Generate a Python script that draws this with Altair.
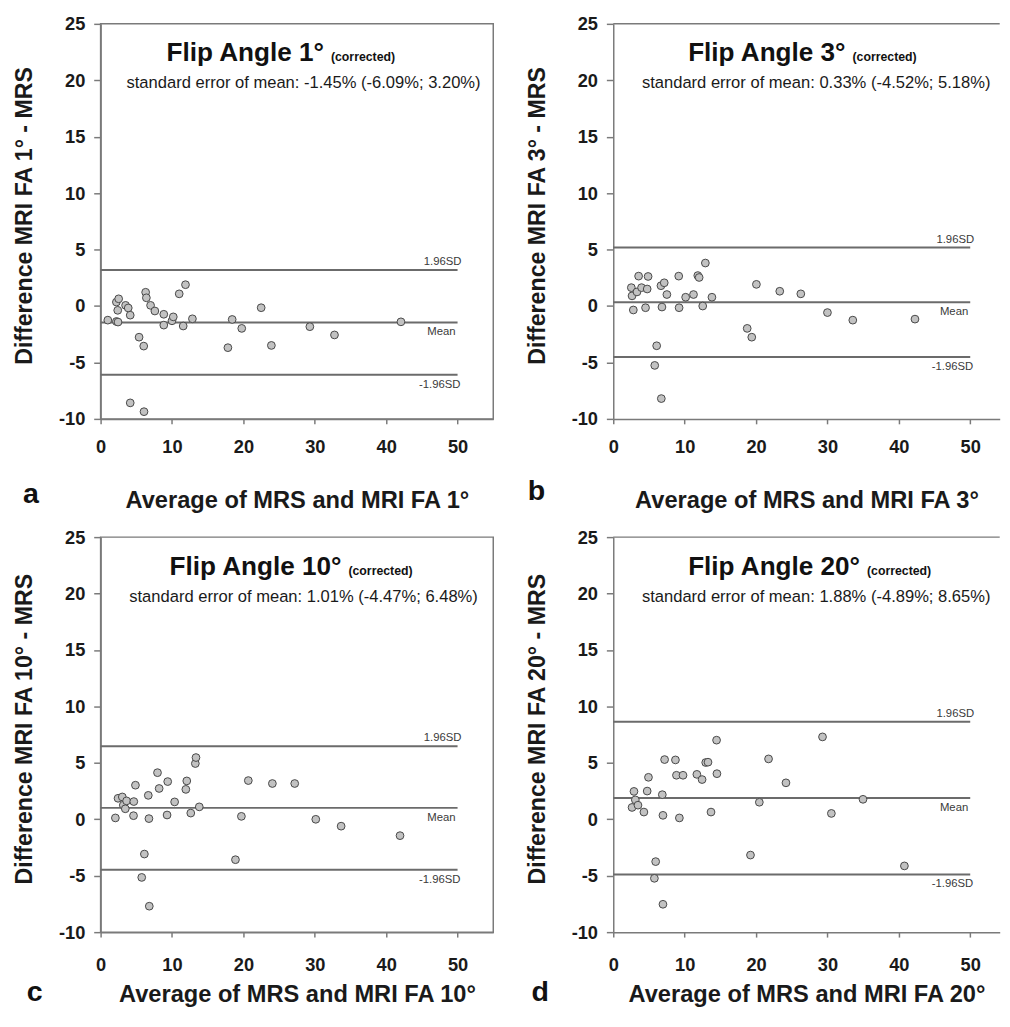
import altair as alt
import pandas as pd

FONT = "Liberation Sans"

# ---------------- data ----------------
a_avg = [1.01, 2.21, 2.53, 2.40, 2.21, 2.44, 3.50, 3.87, 4.15, 4.15, 5.39, 6.04, 6.08, 6.31, 6.41,
         7.00, 7.60, 8.85, 8.85, 10.0, 10.18, 11.01, 11.57, 11.89, 12.86, 17.83, 18.43, 19.77,
         22.49, 23.92, 29.31, 32.76, 42.07]
a_diff = [-1.25, 0.35, 0.64, -0.38, -1.37, -1.42, 0.06, -0.17, -0.81, -8.58, -2.76, -3.55, -9.36,
          1.22, 0.73, 0.06, -0.44, -0.73, -1.69, -1.31, -0.96, 1.08, -1.77, 1.89, -1.13, -3.69,
          -1.19, -1.98, -0.15, -3.49, -1.83, -2.56, -1.40]

b_avg = [2.53, 2.63, 2.81, 3.32, 3.55, 3.96, 4.52, 4.75, 4.88, 5.81, 6.08, 6.68, 6.73, 6.82, 7.14,
         7.51, 9.17, 9.22, 10.14, 11.24, 11.84, 12.03, 12.53, 12.90, 13.82, 18.76, 19.40, 20.05,
         23.32, 26.27, 30.00, 33.55, 42.26]
b_diff = [1.63, 0.90, -0.35, 1.25, 2.65, 1.63, -0.15, 1.51, 2.62, -5.26, -3.52, 1.80, -8.20, -0.09,
          2.06, 1.02, 2.65, -0.15, 0.78, 1.02, 2.70, 2.53, 0.00, 3.81, 0.78, -1.98, -2.76, 1.92,
          1.31, 1.08, -0.58, -1.25, -1.16]

c_avg = [2.07, 2.44, 3.04, 3.18, 3.46, 3.64, 4.61, 4.65, 4.88, 5.76, 6.13, 6.68, 6.77, 6.82, 7.97,
         8.20, 9.31, 9.40, 10.37, 11.94, 12.07, 12.63, 13.27, 13.36, 13.82, 18.89, 19.72, 20.69,
         24.06, 27.19, 30.14, 33.69, 41.94]
c_diff = [0.12, 1.86, 1.98, 1.25, 0.93, 1.63, 0.32, 1.57, 3.02, -5.15, -3.08, 2.12, 0.06, -7.70,
          4.13, 2.73, 0.38, 3.34, 1.54, 2.65, 3.40, 0.55, 4.94, 5.47, 1.10, -3.58, 0.26, 3.43,
          3.17, 3.17, 0.00, -0.61, -1.45]

d_avg = [2.63, 2.90, 3.09, 3.46, 4.29, 4.75, 4.93, 5.76, 5.94, 6.87, 6.96, 6.96, 7.19, 8.71, 8.85,
         9.26, 9.77, 11.71, 12.44, 12.95, 13.27, 13.69, 14.47, 14.52, 19.22, 20.46, 21.75, 24.19,
         29.31, 30.55, 34.98, 40.78]
d_diff = [1.05, 2.47, 1.72, 1.25, 0.64, 2.50, 3.72, -5.23, -3.75, 2.18, 0.35, -7.53, 5.29, 5.26,
          3.90, 0.12, 3.90, 3.98, 3.52, 5.03, 5.06, 0.64, 7.01, 4.04, -3.17, 1.51, 5.35, 3.23,
          7.30, 0.52, 1.77, -4.13]

flip_angles = ["1°", "3°", "10°", "20°"]
panel_letters = ["a", "b", "c", "d"]
mean_diff = [-1.45, 0.33, 1.01, 1.88]
lower_loa = [-6.09, -4.52, -4.47, -4.89]
upper_loa = [3.20, 5.18, 6.48, 8.65]
sem_texts = [
    "standard error of mean: -1.45% (-6.09%; 3.20%)",
    "standard error of mean: 0.33% (-4.52%; 5.18%)",
    "standard error of mean: 1.01% (-4.47%; 6.48%)",
    "standard error of mean: 1.88% (-4.89%; 8.65%)",
]
loa_labels = ["1.96SD", "Mean", "-1.96SD"]
x_ticks = [0, 10, 20, 30, 40, 50]
y_ticks = [-10, -5, 0, 5, 10, 15, 20, 25]

# ---------------- layout / style ----------------
PX_PER_UNIT = 7.247
H = 401
TITLE_SIZE = 26.5
BORDER = "#7a7a7a"
BOLD_W = {"F": 611, "l": 278, "i": 278, "p": 611, " ": 278, "A": 722, "n": 611, "g": 611,
          "e": 556, "°": 400}


def bold_width(s, size):
    return sum(BOLD_W.get(ch, 556) for ch in s) / 1000.0 * size


def panel(i, avg, diff, xmax, label_pad, title_pad, letter_x, letter_y, title_x, open_right):
    width = xmax * PX_PER_UNIT
    xscale = alt.Scale(domain=[0, xmax], nice=False, zero=False)
    yscale = alt.Scale(domain=[-10, 25], nice=False, zero=False)
    xaxis = alt.Axis(values=x_ticks, title=f"Average of MRS and MRI FA {flip_angles[i]}",
                     labelPadding=label_pad, titlePadding=title_pad, labelFlush=False,
                     tickSize=5, grid=False, titleFontSize=24)
    yaxis = alt.Axis(values=y_ticks, title=f"Difference MRI FA {flip_angles[i]} - MRS",
                     labelExpr="'' + datum.value", labelPadding=9, titlePadding=22,
                     titleY=H / 2 - 6, tickSize=7, grid=False, labelFlush=False,
                     titleFontSize=23.5)

    pts = pd.DataFrame({"avg": avg, "diff": diff})
    lim = pd.DataFrame({"diff": [upper_loa[i], mean_diff[i], lower_loa[i]], "lab": loa_labels})

    rules = alt.Chart(lim).mark_rule(color="#6b6b6b", strokeWidth=2).encode(
        x=alt.X(datum=0, scale=xscale, axis=xaxis),
        x2=alt.datum(50),
        y=alt.Y("diff:Q", scale=yscale, axis=yaxis),
    )
    points = alt.Chart(pts).mark_circle(size=62, fill="#c2c2c2", stroke="#474747",
                                        strokeWidth=1, opacity=1, fillOpacity=1).encode(
        x=alt.X("avg:Q", scale=xscale, axis=xaxis),
        y=alt.Y("diff:Q", scale=yscale, axis=yaxis),
    )
    lab_style = dict(font=FONT, fontSize=11.5, color="#3a3a3a", align="right")
    up_lab = alt.Chart(lim.iloc[[0]]).mark_text(baseline="bottom", dx=4, dy=-3, **lab_style).encode(
        x=alt.X(datum=50, scale=xscale, axis=xaxis),
        y=alt.Y("diff:Q", scale=yscale, axis=yaxis), text="lab:N")
    mean_lab = alt.Chart(lim.iloc[[1]]).mark_text(baseline="top", dx=-2, dy=4, **lab_style).encode(
        x=alt.X(datum=50, scale=xscale, axis=xaxis),
        y=alt.Y("diff:Q", scale=yscale, axis=yaxis), text="lab:N")
    low_lab = alt.Chart(lim.iloc[[2]]).mark_text(baseline="top", dx=3, dy=4, **lab_style).encode(
        x=alt.X(datum=50, scale=xscale, axis=xaxis),
        y=alt.Y("diff:Q", scale=yscale, axis=yaxis), text="lab:N")

    title_txt = f"Flip Angle {flip_angles[i]}"
    title = alt.Chart(pd.DataFrame({"t": [title_txt]})).mark_text(
        font=FONT, fontSize=TITLE_SIZE, fontWeight="bold", align="left",
        baseline="alphabetic", color="#111111").encode(
        text="t:N", x=alt.value(title_x), y=alt.value(38))
    corr = alt.Chart(pd.DataFrame({"t": ["(corrected)"]})).mark_text(
        font=FONT, fontSize=12.5, fontWeight="bold", align="left",
        baseline="alphabetic", color="#111111").encode(
        text="t:N", x=alt.value(title_x + bold_width(title_txt, TITLE_SIZE) + 6), y=alt.value(38))
    sub = alt.Chart(pd.DataFrame({"t": [sem_texts[i]]})).mark_text(
        font=FONT, fontSize=16.8, align="center", baseline="alphabetic", color="#1a1a1a").encode(
        text="t:N", x=alt.value(206), y=alt.value(65.5))
    letter = alt.Chart(pd.DataFrame({"t": [panel_letters[i]]})).mark_text(
        font=FONT, fontSize=29, fontWeight="bold", align="left", baseline="alphabetic",
        color="#111111").encode(text="t:N", x=alt.value(letter_x), y=alt.value(letter_y))

    layers = [rules, points, up_lab, mean_lab, low_lab, title, corr, sub, letter]
    props = dict(width=width, height=H)
    if open_right:
        top = alt.Chart(pd.DataFrame({"diff": [25]})).mark_rule(
            color=BORDER, strokeWidth=1.5).encode(y=alt.Y("diff:Q", scale=yscale, axis=yaxis))
        layers.append(top)
        props["view"] = alt.ViewBackground(stroke="transparent")
    return alt.layer(*layers).properties(**props)


pa = panel(0, a_avg, a_diff, 55, 14.4, 32.7, -78.7, 486.0, 67, False)
pb = panel(1, b_avg, b_diff, 54.13, 14.4, 32.7, -86.7, 483.0, 76, True)
pc = panel(2, c_avg, c_diff, 55, 19.1, 8.5, -75.0, 470.5, 70, False)
pd_ = panel(3, d_avg, d_diff, 54.13, 19.1, 8.5, -83.0, 470.5, 76, True)

chart = alt.concat(
    pa, pb, pc, pd_, columns=2, bounds="flush",
    spacing={"row": 120, "column": 121.4},
).properties(
    padding={"left": 4, "top": -1.5, "right": 0, "bottom": 0}
).configure_view(
    stroke=BORDER, strokeWidth=1.5
).configure_axis(
    labelFont=FONT, titleFont=FONT, labelFontWeight="bold", titleFontWeight="bold",
    labelFontSize=18.5, titleFontSize=23, labelColor="#1a1a1a", titleColor="#1a1a1a",
    domainColor=BORDER, domainWidth=1.5, tickColor=BORDER, tickWidth=1.5,
    labelOverlap=False,
)

chart.save("out.html", embed_options={"renderer": "svg", "actions": False})
